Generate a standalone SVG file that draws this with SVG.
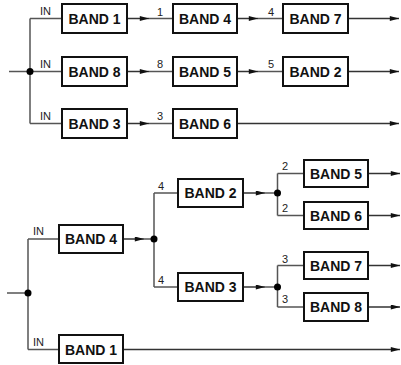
<svg xmlns="http://www.w3.org/2000/svg" width="401" height="365" viewBox="0 0 401 365">
<defs>
<marker id="ah" markerUnits="userSpaceOnUse" viewBox="0 0 11 6" refX="11" refY="3" markerWidth="11" markerHeight="5" orient="auto">
<path d="M0,0 L11,3 L0,6 z" fill="#111"/>
</marker>
<style>
.box{fill:#fff;stroke:#111;stroke-width:2}
.bt{font-family:"Liberation Sans",Arial,sans-serif;font-weight:bold;font-size:14px;fill:#111;text-anchor:middle}
.lb{font-family:"Liberation Sans",Arial,sans-serif;font-size:11px;fill:#222}
.ln{fill:none;stroke:#555;stroke-width:1.5}
.ar{fill:none;stroke:#333;stroke-width:1.5;marker-end:url(#ah)}
.dot{fill:#000}
</style>
</defs>
<g id="connectors">
<!-- top section -->
<path class="ln" d="M9,71.5 H30 M30,18.5 V123.5 M30,18.5 H61 M30,71.5 H61 M30,123.5 H61"/>
<circle class="dot" cx="30" cy="71.5" r="3.5"/>
<path class="ar" d="M128,18.5 H149"/><path class="ln" d="M149,18.5 H172"/>
<path class="ar" d="M238,18.5 H258"/><path class="ln" d="M258,18.5 H282"/>
<path class="ar" d="M348,18.5 H399"/>
<path class="ar" d="M128,71.5 H149"/><path class="ln" d="M149,71.5 H172"/>
<path class="ar" d="M238,71.5 H258"/><path class="ln" d="M258,71.5 H282"/>
<path class="ar" d="M348,71.5 H399"/>
<path class="ar" d="M128,123.5 H149"/><path class="ln" d="M149,123.5 H172"/>
<path class="ar" d="M238,123.5 H399"/>
<text class="lb" x="40" y="15">IN</text>
<text class="lb" x="40" y="68">IN</text>
<text class="lb" x="40" y="120">IN</text>
<text class="lb" x="157" y="16">1</text>
<text class="lb" x="268" y="16">4</text>
<text class="lb" x="157" y="68">8</text>
<text class="lb" x="268" y="68">5</text>
<text class="lb" x="157" y="120">3</text>
<!-- bottom section -->
<path class="ln" d="M7,293 H28 M28,239 V349.5 M28,239 H58 M28,349.5 H58"/>
<circle class="dot" cx="28" cy="293" r="3.5"/>
<path class="ar" d="M124,239 H144"/><path class="ln" d="M144,239 H154 M154,193 V287 M154,193 H177 M154,287 H177"/>
<circle class="dot" cx="154" cy="239" r="3.5"/>
<path class="ar" d="M244,193 H265"/><path class="ln" d="M265,193 H277.5 M277.5,173.5 V215.5 M277.5,173.5 H303 M277.5,215.5 H303"/>
<circle class="dot" cx="277.5" cy="193" r="3.5"/>
<path class="ar" d="M244,287 H265"/><path class="ln" d="M265,287 H277.5 M277.5,265.5 V307 M277.5,265.5 H303 M277.5,307 H303"/>
<circle class="dot" cx="277.5" cy="287" r="3.5"/>
<path class="ar" d="M369,173.5 H400"/>
<path class="ar" d="M369,215.5 H400"/>
<path class="ar" d="M369,265.5 H400"/>
<path class="ar" d="M369,307 H400"/>
<path class="ar" d="M124,349.5 H400"/>
<text class="lb" x="33" y="235">IN</text>
<text class="lb" x="33" y="346">IN</text>
<text class="lb" x="158" y="190">4</text>
<text class="lb" x="158" y="284">4</text>
<text class="lb" x="282" y="170">2</text>
<text class="lb" x="282" y="212">2</text>
<text class="lb" x="282" y="263">3</text>
<text class="lb" x="282" y="303">3</text>
</g>
<g id="t-band1"><rect class="box" x="62" y="4" width="65" height="29"/><text class="bt" x="94.5" y="23.5">BAND 1</text></g>
<g id="t-band4"><rect class="box" x="173" y="4" width="64" height="29"/><text class="bt" x="205" y="23.5">BAND 4</text></g>
<g id="t-band7"><rect class="box" x="283" y="4" width="65" height="29"/><text class="bt" x="315.5" y="23.5">BAND 7</text></g>
<g id="t-band8"><rect class="box" x="62" y="57" width="65" height="29"/><text class="bt" x="94.5" y="76.5">BAND 8</text></g>
<g id="t-band5"><rect class="box" x="173" y="57" width="64" height="29"/><text class="bt" x="205" y="76.5">BAND 5</text></g>
<g id="t-band2"><rect class="box" x="283" y="57" width="65" height="29"/><text class="bt" x="315.5" y="76.5">BAND 2</text></g>
<g id="t-band3"><rect class="box" x="62" y="109" width="65" height="29"/><text class="bt" x="94.5" y="128.5">BAND 3</text></g>
<g id="t-band6"><rect class="box" x="173" y="109" width="64" height="29"/><text class="bt" x="205" y="128.5">BAND 6</text></g>
<g id="b-band4"><rect class="box" x="59" y="225" width="64" height="28"/><text class="bt" x="91" y="244">BAND 4</text></g>
<g id="b-band1"><rect class="box" x="59" y="335" width="64" height="28"/><text class="bt" x="91" y="354.5">BAND 1</text></g>
<g id="b-band2"><rect class="box" x="178" y="179" width="65" height="28"/><text class="bt" x="210.5" y="198">BAND 2</text></g>
<g id="b-band3"><rect class="box" x="178" y="273" width="65" height="28"/><text class="bt" x="210.5" y="292">BAND 3</text></g>
<g id="b-band5"><rect class="box" x="304" y="160" width="64" height="27"/><text class="bt" x="336" y="178.5">BAND 5</text></g>
<g id="b-band6"><rect class="box" x="304" y="202" width="64" height="27"/><text class="bt" x="336" y="220.5">BAND 6</text></g>
<g id="b-band7"><rect class="box" x="304" y="252" width="64" height="27"/><text class="bt" x="336" y="270.5">BAND 7</text></g>
<g id="b-band8"><rect class="box" x="304" y="293" width="64" height="28"/><text class="bt" x="336" y="312">BAND 8</text></g>
</svg>
